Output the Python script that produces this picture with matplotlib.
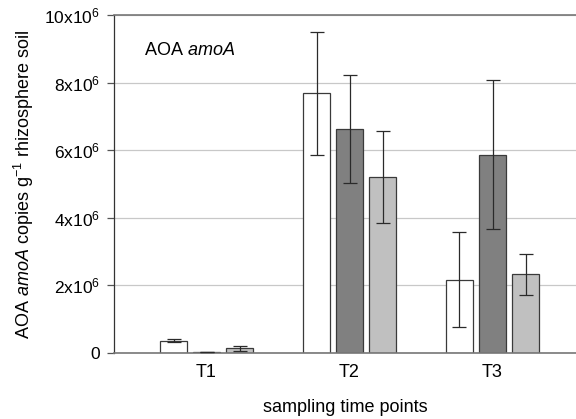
import matplotlib.pyplot as plt
import numpy as np

plt.rcParams['font.family'] = ['Liberation Sans', 'DejaVu Sans']
plt.rcParams['mathtext.fontset'] = 'custom'
plt.rcParams['mathtext.rm'] = 'Liberation Sans'
plt.rcParams['mathtext.it'] = 'Liberation Sans:italic'

# data (copies per g soil, x10^6)
timepoints = ['T1', 'T2', 'T3']
series1 = [0.36, 7.68, 2.17]
series2 = [0.03, 6.62, 5.87]
series3 = [0.14, 5.20, 2.33]
err1 = [0.04, 1.83, 1.41]
err2 = [0.01, 1.60, 2.20]
err3 = [0.08, 1.36, 0.60]
yticks = [0, 2, 4, 6, 8, 10]
yticklabels = ['0', '2x10$^{6}$', '4x10$^{6}$', '6x10$^{6}$', '8x10$^{6}$', '10x10$^{6}$']

fig = plt.figure(figsize=(5.76, 4.19), dpi=100)
ax = fig.add_axes([0.198, 0.1575, 0.802, 0.8065])

x = np.arange(len(timepoints))
w = 0.189
off = 0.231
colors = ['white', '#808080', '#c0c0c0']
for i, (vals, errs) in enumerate([(series1, err1), (series2, err2), (series3, err3)]):
    ax.bar(x + (i - 1) * off, vals, w, color=colors[i], edgecolor='#3a3a3a',
           linewidth=0.9, zorder=2)
    ax.errorbar(x + (i - 1) * off, vals, yerr=errs, fmt='none', ecolor='#2a2a2a',
                elinewidth=0.9, capsize=5, capthick=0.9, zorder=3)

ax.set_xlim(-0.647, 2.584)
ax.set_ylim(0, 10)
ax.set_yticks(yticks)
ax.set_yticklabels(yticklabels, fontsize=12.5)
ax.set_xticks(x)
ax.set_xticklabels(timepoints, fontsize=13)
ax.tick_params(axis='x', length=0, pad=8)
ax.tick_params(axis='y', length=5, width=0.9, color='#555555', pad=5)
ax.yaxis.grid(True, color='#c8c8c8', linewidth=0.9, zorder=0)
ax.set_axisbelow(True)

ax.spines['right'].set_visible(False)
ax.spines['top'].set_color('#777777')
ax.spines['top'].set_linewidth(1.2)
ax.spines['bottom'].set_color('#777777')
ax.spines['bottom'].set_linewidth(1.2)
ax.spines['left'].set_color('#333333')
ax.spines['left'].set_linewidth(0.9)

ax.set_ylabel('AOA $\\it{amoA}$ copies g$^{-1}$ rhizosphere soil', fontsize=13)
ax.yaxis.set_label_coords(-0.17, 0.5)
ax.set_xlabel('sampling time points', fontsize=13, labelpad=13)
ax.text(0.065, 0.896, 'AOA $\\it{amoA}$', transform=ax.transAxes, fontsize=13,
        va='center')

plt.savefig('out.png', dpi=100)
